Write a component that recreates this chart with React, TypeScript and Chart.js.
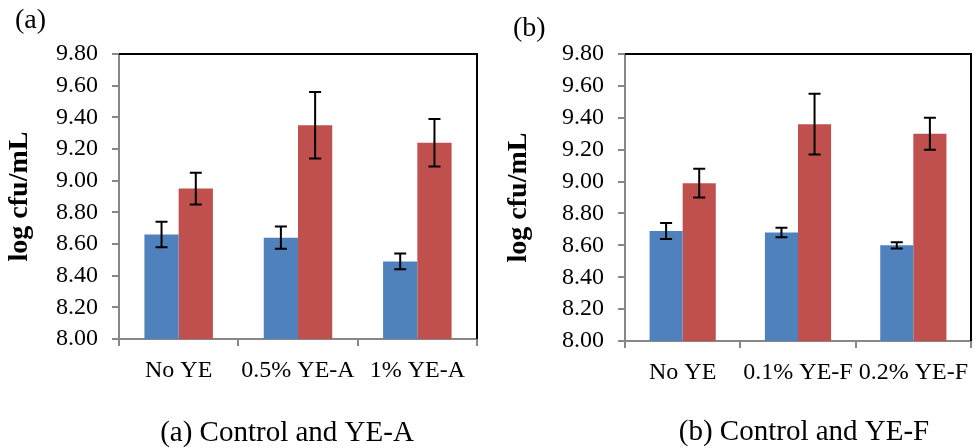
import { useEffect, useRef } from "react";
import { Chart, registerables } from "chart.js";

Chart.register(...registerables);

// ---- data ----
const categoriesA = ["No YE", "0.5% YE-A", "1% YE-A"];
const categoriesB = ["No YE", "0.1% YE-F", "0.2% YE-F"];

const seriesOneA = [8.66, 8.64, 8.49];
const seriesTwoA = [8.95, 9.35, 9.24];
const seriesOneErrA = [0.08, 0.07, 0.05];
const seriesTwoErrA = [0.1, 0.21, 0.15];

const seriesOneB = [8.69, 8.68, 8.6];
const seriesTwoB = [8.99, 9.36, 9.3];
const seriesOneErrB = [0.05, 0.03, 0.02];
const seriesTwoErrB = [0.09, 0.19, 0.1];

const yMin = 8.0;
const yMax = 9.8;
const yStep = 0.2;
const yTitle = "log cfu/mL";

const tagA = "(a)";
const tagB = "(b)";
const captionA = "(a) Control and YE-A";
const captionB = "(b) Control and YE-F";

// ---- styles ----
const FONT = "'Liberation Serif', 'Times New Roman', serif";
const BLUE = "#4F81BD";
const RED = "#C0504D";
const AXIS_GRAY = "#878787";

type PanelProps = {
  left: number;
  width: number;
  labels: string[];
  one: number[];
  two: number[];
  oneErr: number[];
  twoErr: number[];
  yAxisWidth: number;
  padRight: number;
  xAxisHeight: number;
  titlePad: number;
  tag: string;
  tagX: number;
  tagY: number;
  caption: string;
  capX: number;
  capY: number;
};

function makeErrorBars(errors: number[][]) {
  return {
    id: "errorBars",
    afterDatasetsDraw(chart: any) {
      const ctx = chart.ctx;
      const y = chart.scales.y;
      const cap = 6;
      ctx.save();
      ctx.strokeStyle = "#000";
      ctx.lineWidth = 2;
      chart.data.datasets.forEach((ds: any, i: number) => {
        const meta = chart.getDatasetMeta(i);
        meta.data.forEach((bar: any, j: number) => {
          const v = ds.data[j] as number;
          const e = errors[i][j];
          const x = bar.x;
          const top = y.getPixelForValue(v + e);
          const bot = y.getPixelForValue(v - e);
          ctx.beginPath();
          ctx.moveTo(x, top);
          ctx.lineTo(x, bot);
          ctx.moveTo(x - cap, top);
          ctx.lineTo(x + cap, top);
          ctx.moveTo(x - cap, bot);
          ctx.lineTo(x + cap, bot);
          ctx.stroke();
        });
      });
      ctx.restore();
    },
  };
}

// top and right edges of the plot area
const framePlugin = {
  id: "plotFrame",
  afterDraw(chart: any) {
    const { ctx, chartArea } = chart;
    ctx.save();
    ctx.strokeStyle = "#000";
    ctx.lineWidth = 2;
    ctx.beginPath();
    ctx.moveTo(chartArea.left, chartArea.top);
    ctx.lineTo(chartArea.right, chartArea.top);
    ctx.lineTo(chartArea.right, chartArea.bottom);
    ctx.stroke();
    ctx.restore();
  },
};

function makeLabels(p: PanelProps) {
  return {
    id: "panelLabels",
    afterDraw(chart: any) {
      const ctx = chart.ctx;
      ctx.save();
      ctx.fillStyle = "#000";
      ctx.textBaseline = "alphabetic";
      ctx.font = `28px ${FONT}`;
      ctx.textAlign = "left";
      ctx.fillText(p.tag, p.tagX, p.tagY);
      ctx.font = `29px ${FONT}`;
      ctx.textAlign = "center";
      ctx.fillText(p.caption, p.capX, p.capY);
      ctx.restore();
    },
  };
}

function Panel(p: PanelProps) {
  const ref = useRef<HTMLCanvasElement | null>(null);

  useEffect(() => {
    if (!ref.current) return;
    const chart = new Chart(ref.current, {
      type: "bar",
      data: {
        labels: p.labels,
        datasets: [
          {
            label: "Series 1",
            data: p.one,
            backgroundColor: BLUE,
            borderWidth: 0,
            categoryPercentage: 0.574,
            barPercentage: 1,
          },
          {
            label: "Series 2",
            data: p.two,
            backgroundColor: RED,
            borderWidth: 0,
            categoryPercentage: 0.574,
            barPercentage: 1,
          },
        ],
      },
      options: {
        responsive: false,
        animation: false,
        devicePixelRatio: 1,
        layout: { padding: { left: 0, top: 54, right: p.padRight, bottom: 0 } },
        plugins: {
          legend: { display: false },
          tooltip: { enabled: false },
          title: { display: false },
        },
        scales: {
          x: {
            offset: true,
            grid: {
              display: true,
              drawOnChartArea: false,
              drawTicks: true,
              tickLength: 7,
              lineWidth: 2,
              tickWidth: 2,
              color: AXIS_GRAY,
              offset: true,
            },
            border: { display: true, color: AXIS_GRAY, width: 2 },
            ticks: {
              color: "#000",
              font: { family: FONT, size: 24 },
              padding: 10,
              autoSkip: false,
              maxRotation: 0,
              minRotation: 0,
            },
            afterFit: (s: any) => {
              s.height = p.xAxisHeight;
              s.paddingLeft = 0;
              s.paddingRight = 0;
            },
          },
          y: {
            min: yMin,
            max: yMax,
            ticks: {
              stepSize: yStep,
              autoSkip: false,
              callback: (v: any) => Number(v).toFixed(2),
              color: "#000",
              font: { family: FONT, size: 24 },
              padding: 14,
            },
            grid: {
              drawOnChartArea: false,
              tickLength: 7,
              lineWidth: 2,
              tickWidth: 2,
              color: AXIS_GRAY,
            },
            border: { color: AXIS_GRAY, width: 2 },
            title: {
              display: true,
              text: yTitle,
              color: "#000",
              font: { family: FONT, size: 28, weight: "bold" },
              padding: { top: p.titlePad, bottom: 0 },
            },
            afterFit: (s: any) => {
              s.width = p.yAxisWidth;
              s.paddingTop = 0;
              s.paddingBottom = 0;
            },
          },
        },
      } as any,
      plugins: [makeErrorBars([p.oneErr, p.twoErr]), framePlugin, makeLabels(p)],
    });
    return () => chart.destroy();
  }, []);

  return (
    <canvas
      ref={ref}
      width={p.width}
      height={448}
      style={{
        position: "absolute",
        left: p.left,
        top: 0,
        width: p.width,
        height: 448,
      }}
    />
  );
}

export default function App() {
  return (
    <div
      style={{
        position: "fixed",
        left: 0,
        top: 0,
        width: 977,
        height: 448,
        background: "#fff",
        overflow: "hidden",
      }}
    >
      <Panel
        left={0}
        width={490}
        labels={categoriesA}
        one={seriesOneA}
        two={seriesTwoA}
        oneErr={seriesOneErrA}
        twoErr={seriesTwoErrA}
        yAxisWidth={119}
        padRight={13}
        xAxisHeight={109}
        titlePad={3}
        tag={tagA}
        tagX={15}
        tagY={28}
        caption={captionA}
        capX={287}
        capY={441}
      />
      <Panel
        left={490}
        width={487}
        labels={categoriesB}
        one={seriesOneB}
        two={seriesTwoB}
        oneErr={seriesOneErrB}
        twoErr={seriesTwoErrB}
        yAxisWidth={135}
        padRight={6}
        xAxisHeight={107}
        titlePad={12}
        tag={tagB}
        tagX={23}
        tagY={36}
        caption={captionB}
        capX={314}
        capY={440}
      />
    </div>
  );
}
